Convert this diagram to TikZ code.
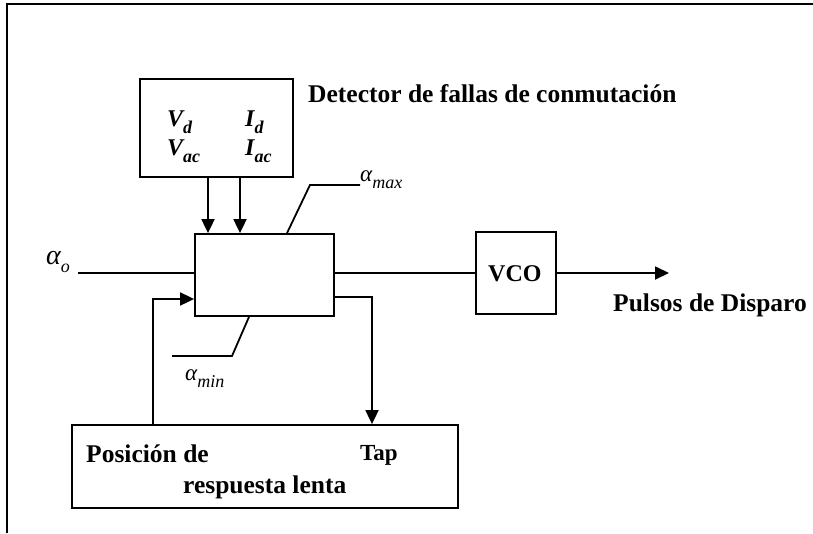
\documentclass[tikz,border=0pt]{standalone}
\usepackage{fontspec}
\setmainfont{Liberation Serif}
\usetikzlibrary{arrows.meta,positioning,calc}
\newcommand{\lowsub}[2]{#1\raisebox{-0.32em}{\fontsize{18}{18}\selectfont #2}}
\tikzset{
  blk/.style={rectangle, draw=black, line width=1.8pt, inner sep=0pt, fill=white},
  txt/.style={font=\fontsize{25.5}{28}\selectfont\bfseries, inner sep=0pt, anchor=base west},
  var/.style={font=\fontsize{24}{26}\selectfont\bfseries\itshape, inner sep=0pt, anchor=base west},
  ang/.style={font=\fontsize{23}{25}\selectfont\itshape, inner sep=0pt, anchor=base west},
  wire/.style={line width=1.8pt},
  flow/.style={wire, -{Triangle[length=14pt,width=13pt]}}
}
\begin{document}
\begin{tikzpicture}[x=1pt, y=-1pt]
\useasboundingbox (0,0) rectangle (813,533);
% outer frame (open on the right and at the bottom)
\draw[line width=2pt] (7,533) -- (7,4) -- (813,4);

% blocks
\node[blk, minimum width=153pt, minimum height=98pt] (det) at (216.5,128) {};
\node[blk, minimum width=139pt, minimum height=82pt] (ctrl) at (264.5,275) {};
\node[blk, minimum width=80pt, minimum height=82pt] (vco) at (516,273) {};
\node[blk, minimum width=386pt, minimum height=83pt] (slow) at (265,466.5) {};

% texts
\node[var] (vd) at (167,126) {\lowsub{V}{d}};
\node[var] (id) at (245,126) {\lowsub{I}{d}};
\node[var] (vac) at (167,155) {\lowsub{V}{ac}};
\node[var] (iac) at (245,155) {\lowsub{I}{ac}};
\node[txt] (dettxt) at (308,102) {Detector de fallas de conmutación};
\node[txt, font=\fontsize{24}{26}\selectfont\bfseries] (vcotxt) at (488,281) {VCO};
\node[txt] (pulsos) at (613,311) {Pulsos de Disparo};
\node[txt] (pos) at (86,462) {Posición de};
\node[txt, font=\fontsize{23}{25}\selectfont\bfseries] (tap) at (360,460) {Tap};
\node[txt] (lenta) at (183,493) {respuesta lenta};
\node[ang, font=\fontsize{28}{30}\selectfont\itshape] (ao) at (46,264) {\lowsub{α}{o}};
\node[ang] (amax) at (360,181) {\lowsub{α}{max}};
\node[ang] (amin) at (185,380) {\lowsub{α}{min}};

% connectors
\coordinate (ain) at (78,273);
\coordinate (pout) at (669,273);
\coordinate (maxa) at (310,185);
\coordinate (maxb) at (360,185);
\coordinate (mina) at (232,356);
\coordinate (minb) at (172,356);
\draw[flow] ([xshift=-8.5pt]det.south) -- ([xshift=-8.5pt]det.south |- ctrl.north);
\draw[flow] ([xshift=23.5pt]det.south) -- ([xshift=23.5pt]det.south |- ctrl.north);
\draw[wire] (ain) -- (ain -| ctrl.west);
\draw[wire] (ctrl.east |- vco.west) -- (vco.west);
\draw[flow] (vco.east) -- (pout);
\draw[flow] ([yshift=-22pt]ctrl.east) -| ([xshift=107pt]slow.north);
\draw[flow] ([xshift=-112pt]slow.north) |- ([yshift=-24pt]ctrl.west);
\draw[wire] ([xshift=22.5pt]ctrl.north) -- (maxa) -- (maxb);
\draw[wire] ([xshift=-15.5pt]ctrl.south) -- (mina) -- (minb);
\end{tikzpicture}
\end{document}
